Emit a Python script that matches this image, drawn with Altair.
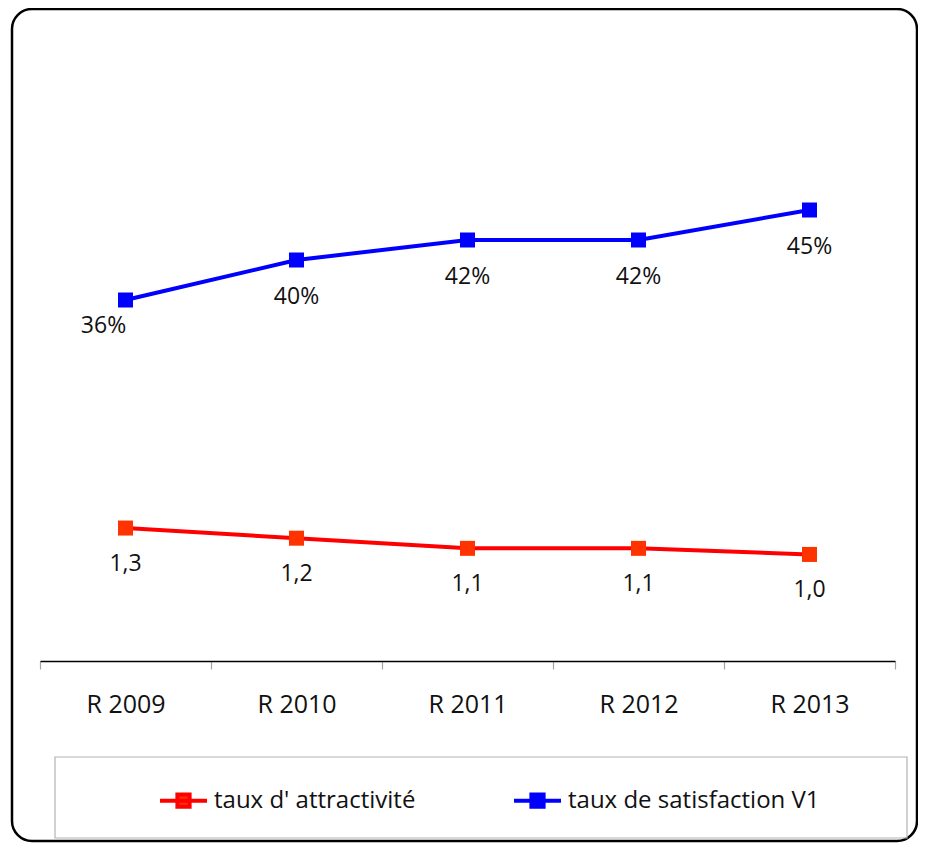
import altair as alt
import pandas as pd

# ---- data ----
years = ["R 2009", "R 2010", "R 2011", "R 2012", "R 2013"]
series_names = ["taux d' attractivité", "taux de satisfaction V1"]
attractivite = [1.3, 1.2, 1.1, 1.1, 1.04]
satisfaction = [0.36, 0.40, 0.42, 0.42, 0.45]

line_colors = ["#FF0000", "#0000FF"]
marker_colors = ["#FF3300", "#0000FF"]

FONT = "Open Sans"

df_a = pd.DataFrame({
    "year": years,
    "series": series_names[0],
    "value": attractivite,
    "label": [f"{v:.1f}".replace(".", ",") for v in attractivite],
})
df_s = pd.DataFrame({
    "year": years,
    "series": series_names[1],
    "value": satisfaction,
    "label": [f"{round(v * 100)}%" for v in satisfaction],
})

legend = alt.Legend(
    title=None,
    orient="none",
    legendX=146,
    legendY=766,
    direction="horizontal",
    symbolType="M-1,0H1M-0.26,-0.26H0.26V0.26H-0.26Z",
    symbolSize=2209,
    symbolStrokeWidth=4,
    symbolOpacity=1,
    labelFont=FONT,
    labelFontSize=24,
    labelColor="#111111",
    labelOffset=5,
    columnPadding=90,
    padding=0,
    labelLimit=400,
)

x_enc = alt.X(
    "year:N",
    sort=years,
    scale=alt.Scale(type="band", range=[28, 883], paddingInner=0, paddingOuter=0),
    axis=alt.Axis(
        title=None,
        labelAngle=0,
        offset=-180,
        domainColor="black",
        domainWidth=1.5,
        tickColor="#A6A6A6",
        tickSize=8,
        tickWidth=1.2,
        tickBand="extent",
        labelFont=FONT,
        labelFontSize=25,
        labelColor="#111111",
        labelPadding=23,
        grid=False,
    ),
)

stroke_enc = alt.Stroke(
    "series:N", scale=alt.Scale(domain=series_names, range=line_colors), legend=legend
)
fill_enc = alt.Fill(
    "series:N", scale=alt.Scale(domain=series_names, range=marker_colors), legend=legend
)


def series_layer(df, domain, rng, label_specs):
    y_enc = alt.Y("value:Q", scale=alt.Scale(domain=domain, range=rng), axis=None)
    base = alt.Chart(df).encode(x=x_enc, y=y_enc)
    line = base.mark_line(strokeWidth=4).encode(stroke=stroke_enc)
    pts = base.mark_point(shape="square", filled=True, size=225, opacity=1).encode(fill=fill_enc)
    layers = [line, pts]
    for flt, dx, dy in label_specs:
        t = base.mark_text(
            dx=dx, dy=dy, font=FONT, fontSize=23, color="#111111", baseline="middle"
        ).encode(text="label:N")
        if flt is not None:
            t = t.transform_filter(flt)
        layers.append(t)
    return alt.layer(*layers)


red = series_layer(df_a, [0, 6], [651, 42], [(None, 0, 36)])
blue = series_layer(
    df_s,
    [0, 0.6],
    [651, 51],
    [
        (alt.datum.year == "R 2009", -22, 26),
        (alt.datum.year != "R 2009", 0, 37),
    ],
)

legend_box = alt.Chart(pd.DataFrame({"d": [0]})).mark_rect(
    fillOpacity=0, stroke="#B3B3B3", strokeWidth=1.2
).encode(x=alt.value(43), x2=alt.value(895), y=alt.value(748), y2=alt.value(829))

chart = (
    alt.layer(legend_box, red, blue)
    .resolve_scale(y="independent")
    .properties(
        width=905,
        height=832,
        padding={"left": 4, "top": 1, "right": 1, "bottom": 2},
        autosize="none",
        background="white",
    )
    .configure_view(stroke="black", strokeWidth=2.5, cornerRadius=20, fill="white")
)

chart.save("out.html", embed_options={"renderer": "svg", "actions": False})
